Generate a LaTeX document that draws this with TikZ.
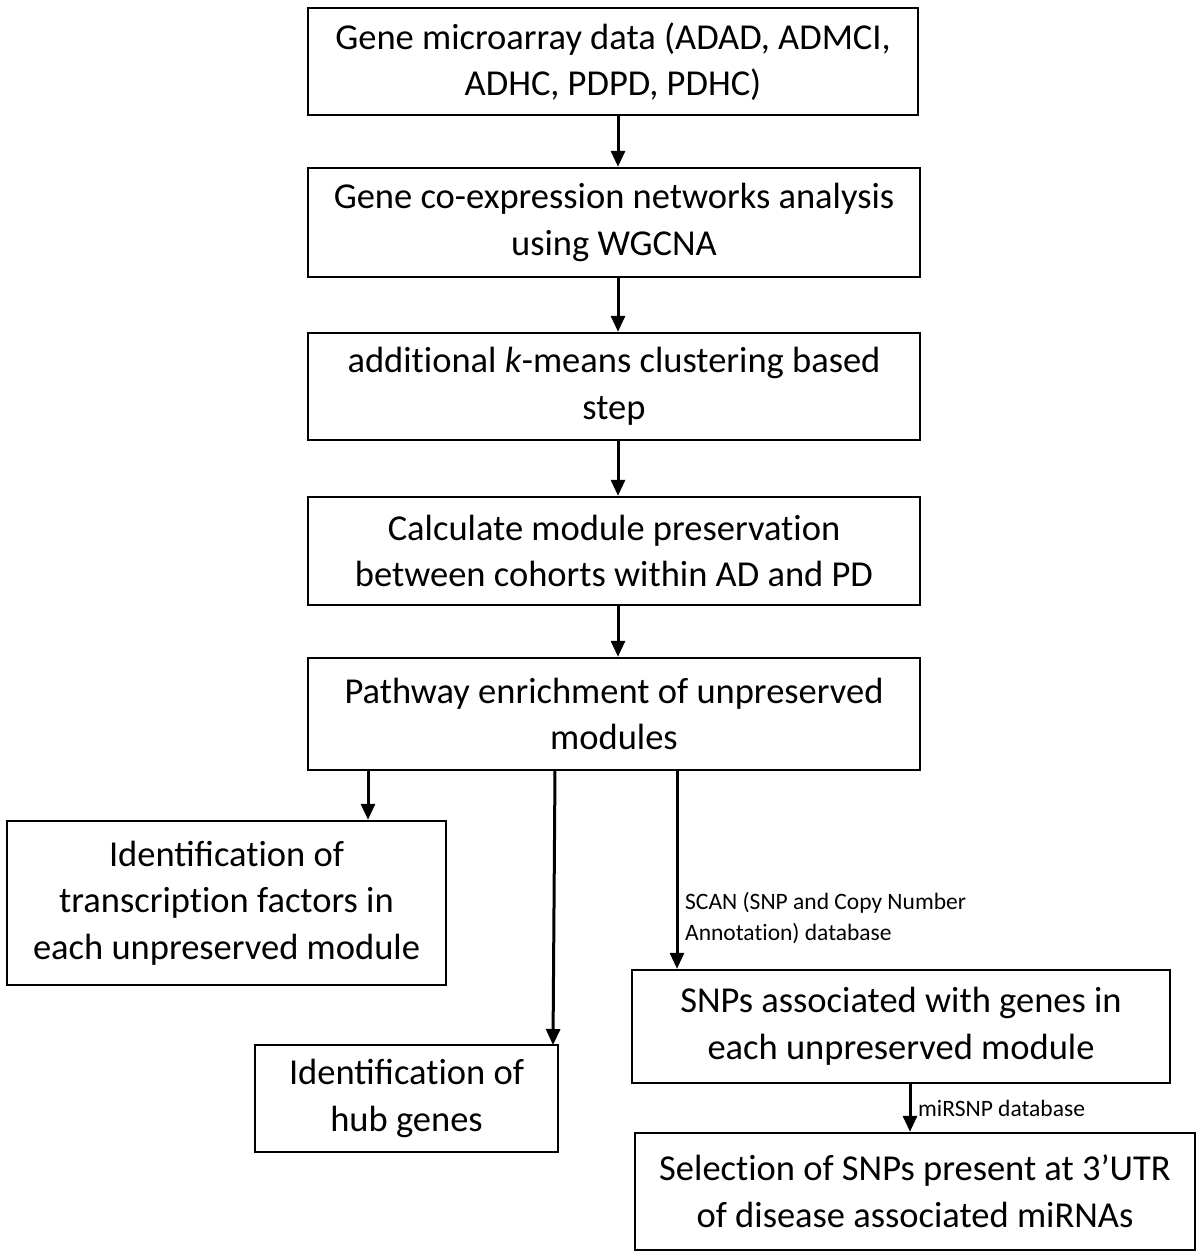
\documentclass[tikz,border=0pt]{standalone}
\usepackage{fontspec}
\setmainfont{Carlito}
\usetikzlibrary{arrows.meta}
\newcommand{\nolig}{\kern0pt\relax}
\begin{document}
\begin{tikzpicture}[x=1pt,y=-1pt,
  box/.style={draw=black,line width=2.4pt,align=center,inner sep=0pt,
    font=\fontsize{36.5}{46.5}\selectfont},
  arr/.style={line width=3pt,-{Triangle[length=16pt,width=14pt]}},
  lbl/.style={font=\fontsize{23.5}{31}\selectfont,align=left,inner sep=0pt}]
\useasboundingbox (0,0) rectangle (1200,1256);
\node[box,minimum width=610pt,minimum height=107pt] (b1) at (613,61.5) {Gene microarray data (ADAD, ADMCI,\\ADHC, PDPD, PDHC)};
\node[box,minimum width=612pt,minimum height=109pt] (b2) at (614,222.5) {Gene co-expression networks analysis\\using WGCNA};
\node[box,minimum width=612pt,minimum height=107pt] (b3) at (614,386.5) {addit\nolig ional \textit{k}-means clustering based\\step};
\node[box,minimum width=612pt,minimum height=108pt] (b4) at (614,551) {Calculate module preservat\nolig ion\\between cohorts within AD and PD};
\node[box,minimum width=612pt,minimum height=112pt] (b5) at (614,714) {Pathway enrichment of unpreserved\\modules};
\node[box,minimum width=439pt,minimum height=164pt] (b6) at (226.5,903) {Identificat\nolig ion of\\transcript\nolig ion factors in\\each unpreserved module};
\node[box,minimum width=303pt,minimum height=107pt] (b7) at (406.5,1098.5) {Identificat\nolig ion of\\hub genes};
\node[box,minimum width=538pt,minimum height=113pt] (b8) at (901,1026.5) {SNPs associated with genes in\\each unpreserved module};
\node[box,minimum width=560pt,minimum height=117pt] (b9) at (915,1191.5) {Select\nolig ion of SNPs present at 3’UTR\\of disease associated miRNAs};
\coordinate (s1) at (618,115);
\coordinate (s2) at (618,277);
\coordinate (s3) at (618,440);
\coordinate (s4) at (618,605);
\draw[arr] (s1) -- (s1 |- b2.north);
\draw[arr] (s2) -- (s2 |- b3.north);
\draw[arr] (s3) -- (s3 |- b4.north);
\draw[arr] (s4) -- (s4 |- b5.north);
\coordinate (s6) at (368,770);
\coordinate (s7) at (555,770);
\coordinate (s8) at (677,770);
\coordinate (s9) at (910,1083);
\draw[arr] (s6) -- (s6 |- b6.north);
\draw[arr] (s7) -- (553,1045);
\draw[arr] (s8) -- (s8 |- b8.north);
\draw[arr] (s9) -- (s9 |- b9.north);
\node[lbl,anchor=west] (l1) at (685,918) {SCAN (SNP and Copy Number\\Annotat\nolig ion) database};
\node[lbl,anchor=west] (l2) at (918,1108) {miRSNP database};
\end{tikzpicture}
\end{document}
